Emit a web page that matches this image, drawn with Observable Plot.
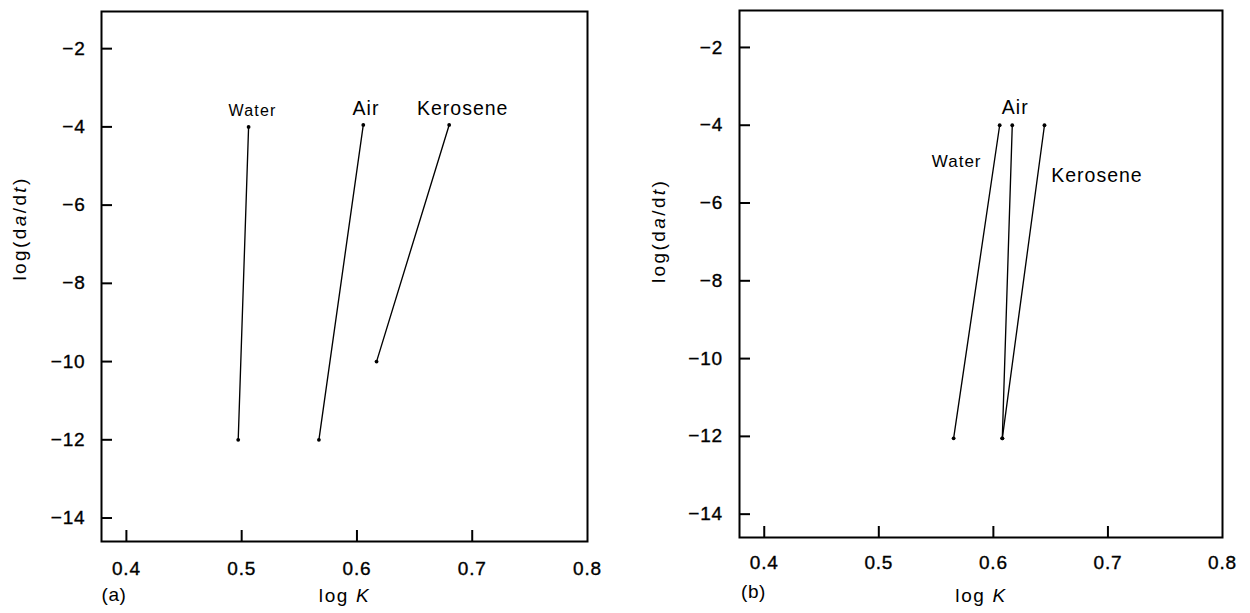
<!DOCTYPE html>
<html>
<head>
<meta charset="utf-8">
<script src="https://cdn.jsdelivr.net/npm/d3@7"></script>
<script src="https://cdn.jsdelivr.net/npm/@observablehq/plot@0.6"></script>
<style>
  html, body { margin: 0; padding: 0; background: #fff; }
  #wrap { display: flex; width: 1250px; height: 613px; }
  #wrap svg { display: block; }
  #wrap svg g[aria-label$="tick label"] text { letter-spacing: 0.8px; stroke: #000; stroke-width: 0.35px; }
</style>
</head>
<body>
<div id="wrap"></div>
<script>
// ---- data ----
const fluids = ["Water", "Air", "Kerosene"];
const xTicks = [0.4, 0.5, 0.6, 0.7, 0.8];
const yTicks = [-2, -4, -6, -8, -10, -12, -14];

// panel (a)
const aLogKTop    = [0.506, 0.6055, 0.680];
const aRateTop    = [-4, -3.95, -3.95];
const aLogKBottom = [0.497, 0.567, 0.617];
const aRateBottom = [-12, -12, -10];

// panel (b)
const bLogKTop    = [0.6055, 0.6165, 0.6446];
const bRateTop    = [-4, -4, -4];
const bLogKBottom = [0.5653, 0.6078, 0.6078];
const bRateBottom = [-12.05, -12.05, -12.05];

// ---- label placement (offsets from the top point of each line) ----
const aLabelStyle = [
  {dx: 4, dy: -16.5, size: 16, spacing: 1.2},
  {dx: 2.7, dy: -16.5, size: 19.5, spacing: 1},
  {dx: 13.5, dy: -16.5, size: 19.5, spacing: 1}
];
const bLabelStyle = [
  {dx: -43, dy: 36, size: 17, spacing: 1},
  {dx: 3, dy: -17, size: 19.5, spacing: 1},
  {dx: 52.5, dy: 51, size: 19.5, spacing: 1}
];

function buildRows(names, xt, yt, xb, yb) {
  const rows = [];
  names.forEach((n, i) => {
    rows.push({fluid: n, logK: xb[i], rate: yb[i], end: "bottom"});
    rows.push({fluid: n, logK: xt[i], rate: yt[i], end: "top"});
  });
  return rows;
}

function panel(cfg) {
  const rows = buildRows(fluids, cfg.xt, cfg.yt, cfg.xb, cfg.yb);
  const tops = rows.filter(d => d.end === "top");
  const innerH = cfg.height - cfg.marginTop - cfg.marginBottom;
  const innerW = cfg.width - cfg.marginLeft - cfg.marginRight;
  const tickLen = 11;
  const labelMarks = tops.map((d, i) =>
    Plot.text([d], {x: "logK", y: "rate", text: "fluid",
      dx: cfg.labels[i].dx, dy: cfg.labels[i].dy, fontSize: cfg.labels[i].size, fill: "black",
      render: (index, scales, values, dims, ctx, next) => {
        const g = next(index, scales, values, dims, ctx);
        g.querySelectorAll("text").forEach(t => t.style.letterSpacing = cfg.labels[i].spacing + "px");
        return g;
      }}));
  return Plot.plot({
    width: cfg.width,
    height: cfg.height,
    marginLeft: cfg.marginLeft,
    marginRight: cfg.marginRight,
    marginTop: cfg.marginTop,
    marginBottom: cfg.marginBottom,
    style: {fontFamily: "'Liberation Sans', Arial, sans-serif", fontSize: "19px", color: "black", background: "white", overflow: "visible"},
    x: {domain: [0.3784, 0.8]},
    y: {domain: [-14.6, -1.05]},
    marks: [
      Plot.tickX(xTicks.slice(0, 4), {x: d => d, insetTop: innerH - tickLen, strokeWidth: 2, stroke: "black"}),
      Plot.tickY(yTicks, {y: d => d, insetRight: innerW - tickLen, strokeWidth: 2, stroke: "black"}),
      Plot.axisX({ticks: xTicks, tickSize: 0, tickPadding: cfg.xPad, tickFormat: d => d.toFixed(1), label: null, fontSize: 19}),
      Plot.axisY({ticks: yTicks, tickSize: 0, tickPadding: cfg.yPad, label: null, fontSize: 19}),
      Plot.line(rows, {x: "logK", y: "rate", z: "fluid", stroke: "black", strokeWidth: 1.35}),
      Plot.dot(rows, {x: "logK", y: "rate", r: 1.9, fill: "black"}),
      ...labelMarks,
      Plot.frame({stroke: "black", strokeWidth: 2}),
      Plot.text(["log(da/dt)"], {frameAnchor: "left", text: d => d, rotate: -90, dx: cfg.yLabDx, dy: cfg.yLabDy, fontSize: 19, fill: "black"}),
      Plot.text(["log K"], {frameAnchor: "bottom", text: d => d, dy: cfg.xLabDy, fontSize: 19, fill: "black"}),
      Plot.text([cfg.tag], {frameAnchor: "bottom-left", text: d => d, dx: cfg.tagDx, dy: cfg.tagDy, fontSize: 19, fill: "black"})
    ]
  });
}

function italicize(svg) {
  const ns = "http://www.w3.org/2000/svg";
  svg.querySelectorAll("text").forEach(t => {
    let parts = null, spacing = null;
    if (t.textContent === "log(da/dt)") { parts = [["log(d", false], ["a", true], ["/d", false], ["t", true], [")", false]]; spacing = 2.4; }
    else if (t.textContent === "log K") { parts = [["log ", false], ["K", true]]; spacing = 1.6; }
    else if (t.textContent === "(a)" || t.textContent === "(b)") { t.style.letterSpacing = "0.6px"; }
    if (!parts) return;
    t.style.letterSpacing = spacing + "px";
    while (t.firstChild) t.removeChild(t.firstChild);
    parts.forEach(([s, it]) => {
      const ts = document.createElementNS(ns, "tspan");
      ts.textContent = s;
      if (it) ts.setAttribute("font-style", "italic");
      t.appendChild(ts);
    });
  });
}

const wrap = document.getElementById("wrap");
const A = panel({
  width: 620, height: 613, marginLeft: 101, marginRight: 33, marginTop: 11, marginBottom: 72,
  xt: aLogKTop, yt: aRateTop, xb: aLogKBottom, yb: aRateBottom, labels: aLabelStyle,
  xPad: 19.5, yPad: 16, yLabDx: -82, yLabDy: 4, xLabDy: 60, tag: "(a)", tagDx: 0, tagDy: 59
});
const B = panel({
  width: 630, height: 613, marginLeft: 119, marginRight: 28, marginTop: 10, marginBottom: 76,
  xt: bLogKTop, yt: bRateTop, xb: bLogKBottom, yb: bRateBottom, labels: bLabelStyle,
  xPad: 18.3, yPad: 16.5, yLabDx: -81, yLabDy: 9, xLabDy: 64, tag: "(b)", tagDx: 1.5, tagDy: 60
});
italicize(A); italicize(B);
wrap.appendChild(A);
wrap.appendChild(B);
</script>
</body>
</html>
